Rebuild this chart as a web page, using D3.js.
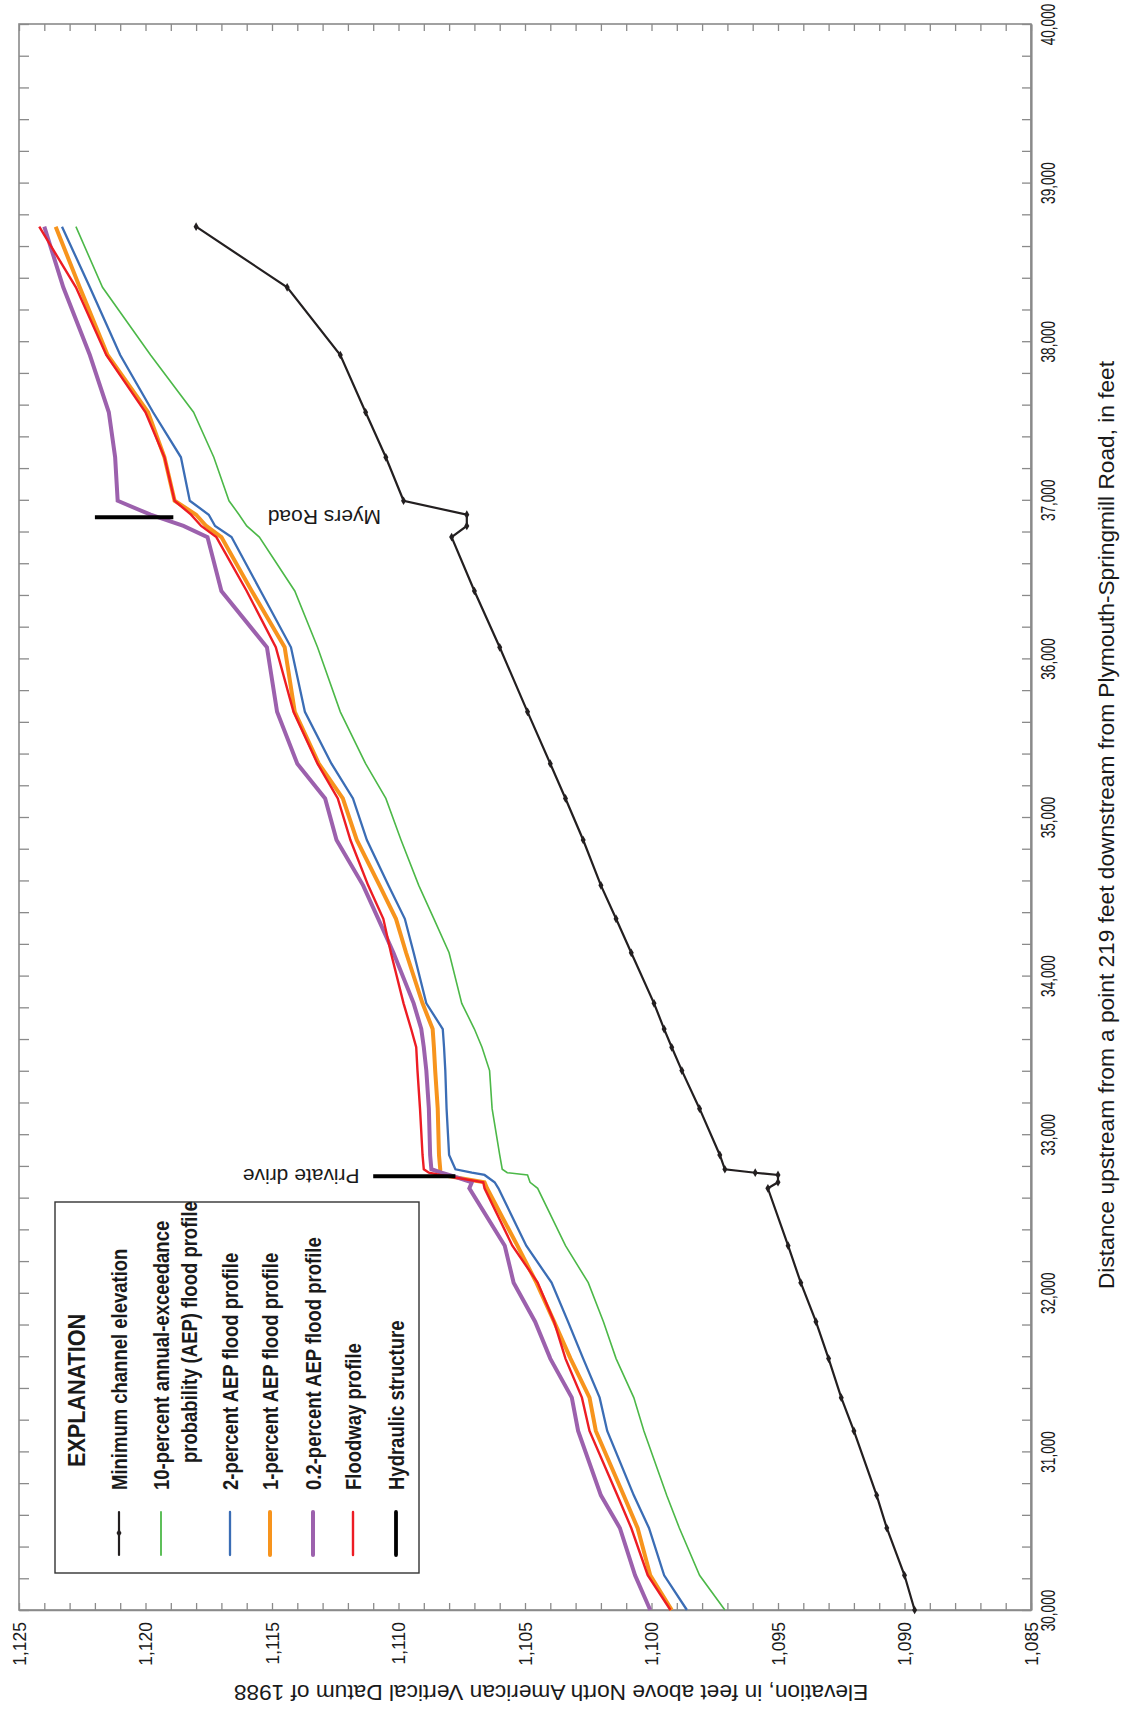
<!DOCTYPE html>
<html>
<head>
<meta charset="utf-8">
<script src="https://cdn.jsdelivr.net/npm/d3@7"></script>
<style>
  html, body { margin: 0; padding: 0; background: #fff; }
  svg { display: block; }
  text { font-family: "Liberation Sans", Arial, Helvetica, sans-serif; }
</style>
</head>
<body>
<svg id="chart" width="1121" height="1710"></svg>
<script>
// Cross-section distances (feet upstream) shared by every profile
const distance = [30000,30219,30517,30723,31129,31339,31585,31818,32064,32297,
  32659,32697,32743,32757,32779,32869,33161,33401,33548,33663,
  33825,34144,34358,34569,34855,35117,35336,35663,36070,36425,
  36765,36835,36906,36994,37268,37552,37913,38340,38722];

// Elevations, feet above NAVD 88
const minChannel = [1089.6,1090.0,1090.7,1091.1,1092.0,1092.5,1093.0,1093.5,1094.1,1094.6,
  1095.4,1095.0,1095.0,1095.9,1097.1,1097.3,1098.1,1098.8,1099.2,1099.5,
  1099.9,1100.8,1101.4,1102.0,1102.7,1103.4,1104.0,1104.9,1106.0,1107.0,
  1107.9,1107.3,1107.3,1109.8,1110.5,1111.3,1112.3,1114.4,1118.0];

const aep10 = [1097.1,1098.1,1098.9,1099.4,1100.3,1100.7,1101.4,1101.9,1102.5,1103.4,
  1104.5,1104.8,1104.9,1105.7,1105.9,1106.0,1106.3,1106.4,1106.7,1107.0,
  1107.5,1108.0,1108.6,1109.2,1109.9,1110.5,1111.3,1112.3,1113.2,1114.1,
  1115.5,1116.0,1116.3,1116.7,1117.3,1118.1,1119.8,1121.7,1122.75];

const aep2 = [1098.6,1099.5,1100.1,1100.7,1101.75,1102.05,1102.7,1103.3,1103.95,1104.95,
  1106.05,1106.2,1106.6,1107.1,1107.75,1108.0,1108.1,1108.15,1108.2,1108.25,
  1108.9,1109.4,1109.75,1110.4,1111.25,1111.8,1112.65,1113.7,1114.25,1115.45,
  1116.6,1117.25,1117.5,1118.25,1118.6,1119.7,1121.0,1122.2,1123.3];

const aep1 = [1099.2,1100.05,1100.55,1101.1,1102.2,1102.45,1103.2,1103.85,1104.55,1105.3,
  1106.5,1106.6,1108.3,1108.35,1108.35,1108.4,1108.45,1108.55,1108.6,1108.65,
  1109.05,1109.7,1110.1,1110.75,1111.65,1112.2,1113.15,1114.1,1114.5,1115.8,
  1117.0,1117.6,1118.0,1118.85,1119.25,1119.9,1121.5,1122.6,1123.55];

const aep02 = [1100.05,1100.65,1101.25,1102.0,1102.9,1103.15,1104.0,1104.6,1105.45,1105.8,
  1107.2,1107.1,1108.0,1108.3,1108.7,1108.75,1108.8,1108.9,1109.0,1109.1,
  1109.4,1110.2,1110.8,1111.4,1112.45,1112.9,1114.0,1114.8,1115.2,1117.0,
  1117.55,1118.5,1119.8,1121.1,1121.2,1121.45,1122.2,1123.25,1124.0];

const floodway = [1099.25,1100.15,1100.8,1101.35,1102.45,1102.75,1103.4,1103.85,1104.5,1105.5,
  1106.6,1106.65,1108.35,1108.8,1109.0,1109.05,1109.15,1109.25,1109.3,1109.5,
  1109.8,1110.3,1110.6,1111.2,1111.9,1112.4,1113.2,1114.15,1114.85,1116.0,
  1117.2,1117.8,1118.2,1118.85,1119.25,1120.0,1121.55,1122.75,1124.2];

// Hydraulic structures: distance and elevation span
const structureNames = ["Private drive", "Myers Road"];
const structureDistance = [32735, 36890];
const structureLow = [1107.75, 1118.9];
const structureHigh = [1111.0, 1122.0];

// Axis ticks
const elevationTicks = [1125,1120,1115,1110,1105,1100,1095,1090,1085];
const distanceTicks = [30000,31000,32000,33000,34000,35000,36000,37000,38000,39000,40000];

// Legend entries
const legendLabels = [
  ["Minimum channel elevation"],
  ["10-percent annual-exceedance", "probability (AEP) flood profile"],
  ["2-percent AEP flood profile"],
  ["1-percent AEP flood profile"],
  ["0.2-percent AEP flood profile"],
  ["Floodway profile"],
  ["Hydraulic structure"]
];

const svg = d3.select("#chart");

// The chart lies on its side: elevation runs left-to-right (high to low),
// distance runs bottom-to-top.
const plotLeft = 19, plotRight = 1031, plotTop = 24, plotBottom = 1610;
const xE = d3.scaleLinear().domain([1125, 1085]).range([plotLeft, plotRight]);
const yD = d3.scaleLinear().domain([30000, 40000]).range([plotBottom, plotTop]);

const axisGrey = "#8a8a8a";
const ink = "#1a1a1a";

// Frame
svg.append("rect")
  .attr("x", plotLeft).attr("y", plotTop)
  .attr("width", plotRight - plotLeft).attr("height", plotBottom - plotTop)
  .attr("fill", "none").attr("stroke", axisGrey).attr("stroke-width", 1.6);

// Elevation axis along the bottom
const elevAxis = svg.append("g")
  .attr("transform", `translate(0,${plotBottom})`)
  .call(d3.axisBottom(xE)
    .tickValues(d3.range(1085, 1126, 1))
    .tickSize(-7)
    .tickSizeOuter(0)
    .tickFormat(d => elevationTicks.includes(d) ? d3.format(",")(d) : ""));
elevAxis.select(".domain").attr("stroke", axisGrey).attr("stroke-width", 1.6);
elevAxis.selectAll(".tick line").attr("stroke", axisGrey).attr("stroke-width", 1.3);
elevAxis.selectAll(".tick text")
  .attr("transform", "rotate(-90)")
  .attr("x", -12).attr("y", 0).attr("dy", "0.35em")
  .style("text-anchor", "end")
  .style("font-family", "'Liberation Sans', Arial, sans-serif")
  .style("font-size", "17.5px")
  .attr("fill", ink);

// Mirror ticks along the top
const elevTop = svg.append("g")
  .attr("transform", `translate(0,${plotTop})`)
  .call(d3.axisTop(xE).tickValues(d3.range(1085, 1126, 1)).tickSize(-7).tickSizeOuter(0).tickFormat(""));
elevTop.select(".domain").remove();
elevTop.selectAll(".tick line").attr("stroke", axisGrey).attr("stroke-width", 1.3);

// Distance axis along the right
const distAxis = svg.append("g")
  .attr("transform", `translate(${plotRight},0)`)
  .call(d3.axisRight(yD)
    .tickValues(d3.range(30000, 40001, 200))
    .tickSize(-9)
    .tickSizeOuter(0)
    .tickFormat(d => distanceTicks.includes(d) ? d3.format(",")(d) : ""));
distAxis.select(".domain").attr("stroke", axisGrey).attr("stroke-width", 2.2);
distAxis.selectAll(".tick line").attr("stroke", axisGrey).attr("stroke-width", 1.3);
distAxis.selectAll(".tick text")
  .attr("transform", "translate(17,0) rotate(-90) scale(0.68,1)")
  .attr("x", 0).attr("y", 0).attr("dy", "0.35em")
  .style("text-anchor", "middle")
  .style("font-family", "'Liberation Sans', Arial, sans-serif")
  .style("font-size", "20px")
  .attr("fill", ink);

// Mirror ticks along the left
const distLeft = svg.append("g")
  .attr("transform", `translate(${plotLeft},0)`)
  .call(d3.axisLeft(yD).tickValues(d3.range(30000, 40001, 200)).tickSize(-10).tickSizeOuter(0).tickFormat(""));
distLeft.select(".domain").remove();
distLeft.selectAll(".tick line").attr("stroke", axisGrey).attr("stroke-width", 1.3);

// Axis titles
svg.append("text")
  .attr("transform", `translate(${(plotLeft + plotRight) / 2 + 26},1693) rotate(180)`)
  .attr("dy", "0.35em")
  .style("text-anchor", "middle")
  .style("font-size", "22.7px")
  .attr("fill", ink)
  .text("Elevation, in feet above North American Vertical Datum of 1988");

svg.append("text")
  .attr("transform", `translate(1106,${(plotTop + plotBottom) / 2 + 8}) rotate(-90)`)
  .attr("dy", "0.35em")
  .style("text-anchor", "middle")
  .style("font-size", "22.7px")
  .attr("fill", ink)
  .text("Distance upstream from a point 219 feet downstream from Plymouth-Springmill Road, in feet");

// Profiles
const rows = distance.map((d, i) => ({ d, i }));
const line = vals => d3.line()
  .x(r => xE(vals[r.i]))
  .y(r => yD(r.d))(rows);

const profiles = [
  { vals: aep10, color: "#4cb848", width: 1.6 },
  { vals: aep2, color: "#3b6db5", width: 2.3 },
  { vals: aep1, color: "#f7941d", width: 4 },
  { vals: aep02, color: "#9c61ad", width: 4 },
  { vals: floodway, color: "#ed1c24", width: 2.4 }
];

const plot = svg.append("g");
profiles.forEach(p => {
  plot.append("path")
    .attr("d", line(p.vals))
    .attr("fill", "none")
    .attr("stroke", p.color)
    .attr("stroke-width", p.width)
    .attr("stroke-linejoin", "miter");
});

// Minimum channel elevation with cross-section markers
plot.append("path")
  .attr("d", line(minChannel))
  .attr("fill", "none")
  .attr("stroke", "#231f20")
  .attr("stroke-width", 2.2);
plot.selectAll("path.marker")
  .data(rows)
  .join("path")
  .attr("class", "marker")
  .attr("transform", r => `translate(${xE(minChannel[r.i])},${yD(r.d)})`)
  .attr("d", d3.symbol(d3.symbolDiamond, 22))
  .attr("fill", "#231f20");

// Hydraulic structures and their names
structureNames.forEach((name, i) => {
  plot.append("line")
    .attr("x1", xE(structureHigh[i])).attr("x2", xE(structureLow[i]))
    .attr("y1", yD(structureDistance[i])).attr("y2", yD(structureDistance[i]))
    .attr("stroke", "#000").attr("stroke-width", 3.8);
});
svg.append("text")
  .attr("transform", `translate(${xE(structureHigh[0]) - 72},${yD(structureDistance[0])}) rotate(180)`)
  .attr("dy", "0.35em")
  .style("text-anchor", "middle")
  .style("font-size", "21px")
  .attr("fill", ink)
  .text(structureNames[0]);
svg.append("text")
  .attr("transform", `translate(${xE(structureLow[1]) + 151},${yD(structureDistance[1])}) rotate(180)`)
  .attr("dy", "0.35em")
  .style("text-anchor", "middle")
  .style("font-size", "21px")
  .attr("fill", ink)
  .text(structureNames[1]);

// Legend
const legend = svg.append("g");
legend.append("rect")
  .attr("x", 55).attr("y", 1202).attr("width", 364).attr("height", 371)
  .attr("fill", "#fff").attr("stroke", "#333").attr("stroke-width", 1.4);

legend.append("text")
  .attr("transform", "translate(77,1467) rotate(-90) scale(0.9,1)")
  .attr("dy", "0.35em")
  .style("font-size", "24px").style("font-weight", "bold")
  .attr("fill", ink)
  .text("EXPLANATION");

const legendX = [119, 161, 230, 270, 313, 353, 396];
const legendSym = [
  { color: "#231f20", width: 2.2, marker: true },
  { color: "#4cb848", width: 1.8 },
  { color: "#3b6db5", width: 2.3 },
  { color: "#f7941d", width: 4 },
  { color: "#9c61ad", width: 4 },
  { color: "#ed1c24", width: 2.4 },
  { color: "#000", width: 3.8 }
];
legendLabels.forEach((lines, i) => {
  const x = legendX[i];
  legend.append("line")
    .attr("x1", x).attr("x2", x).attr("y1", 1512).attr("y2", 1555)
    .attr("stroke", legendSym[i].color).attr("stroke-width", legendSym[i].width)
    .attr("stroke-linecap", "round");
  if (legendSym[i].marker) {
    legend.append("path")
      .attr("transform", `translate(${x},1533)`)
      .attr("d", d3.symbol(d3.symbolDiamond, 22))
      .attr("fill", "#231f20");
  }
  lines.forEach((t, j) => {
    legend.append("text")
      .attr("transform", `translate(${x + j * 28},${1490 - j * 27}) rotate(-90) scale(0.86,1)`)
      .attr("dy", "0.35em")
      .style("font-size", "21.5px").style("font-weight", "bold")
      .attr("fill", ink)
      .text(t);
  });
});
</script>
</body>
</html>
